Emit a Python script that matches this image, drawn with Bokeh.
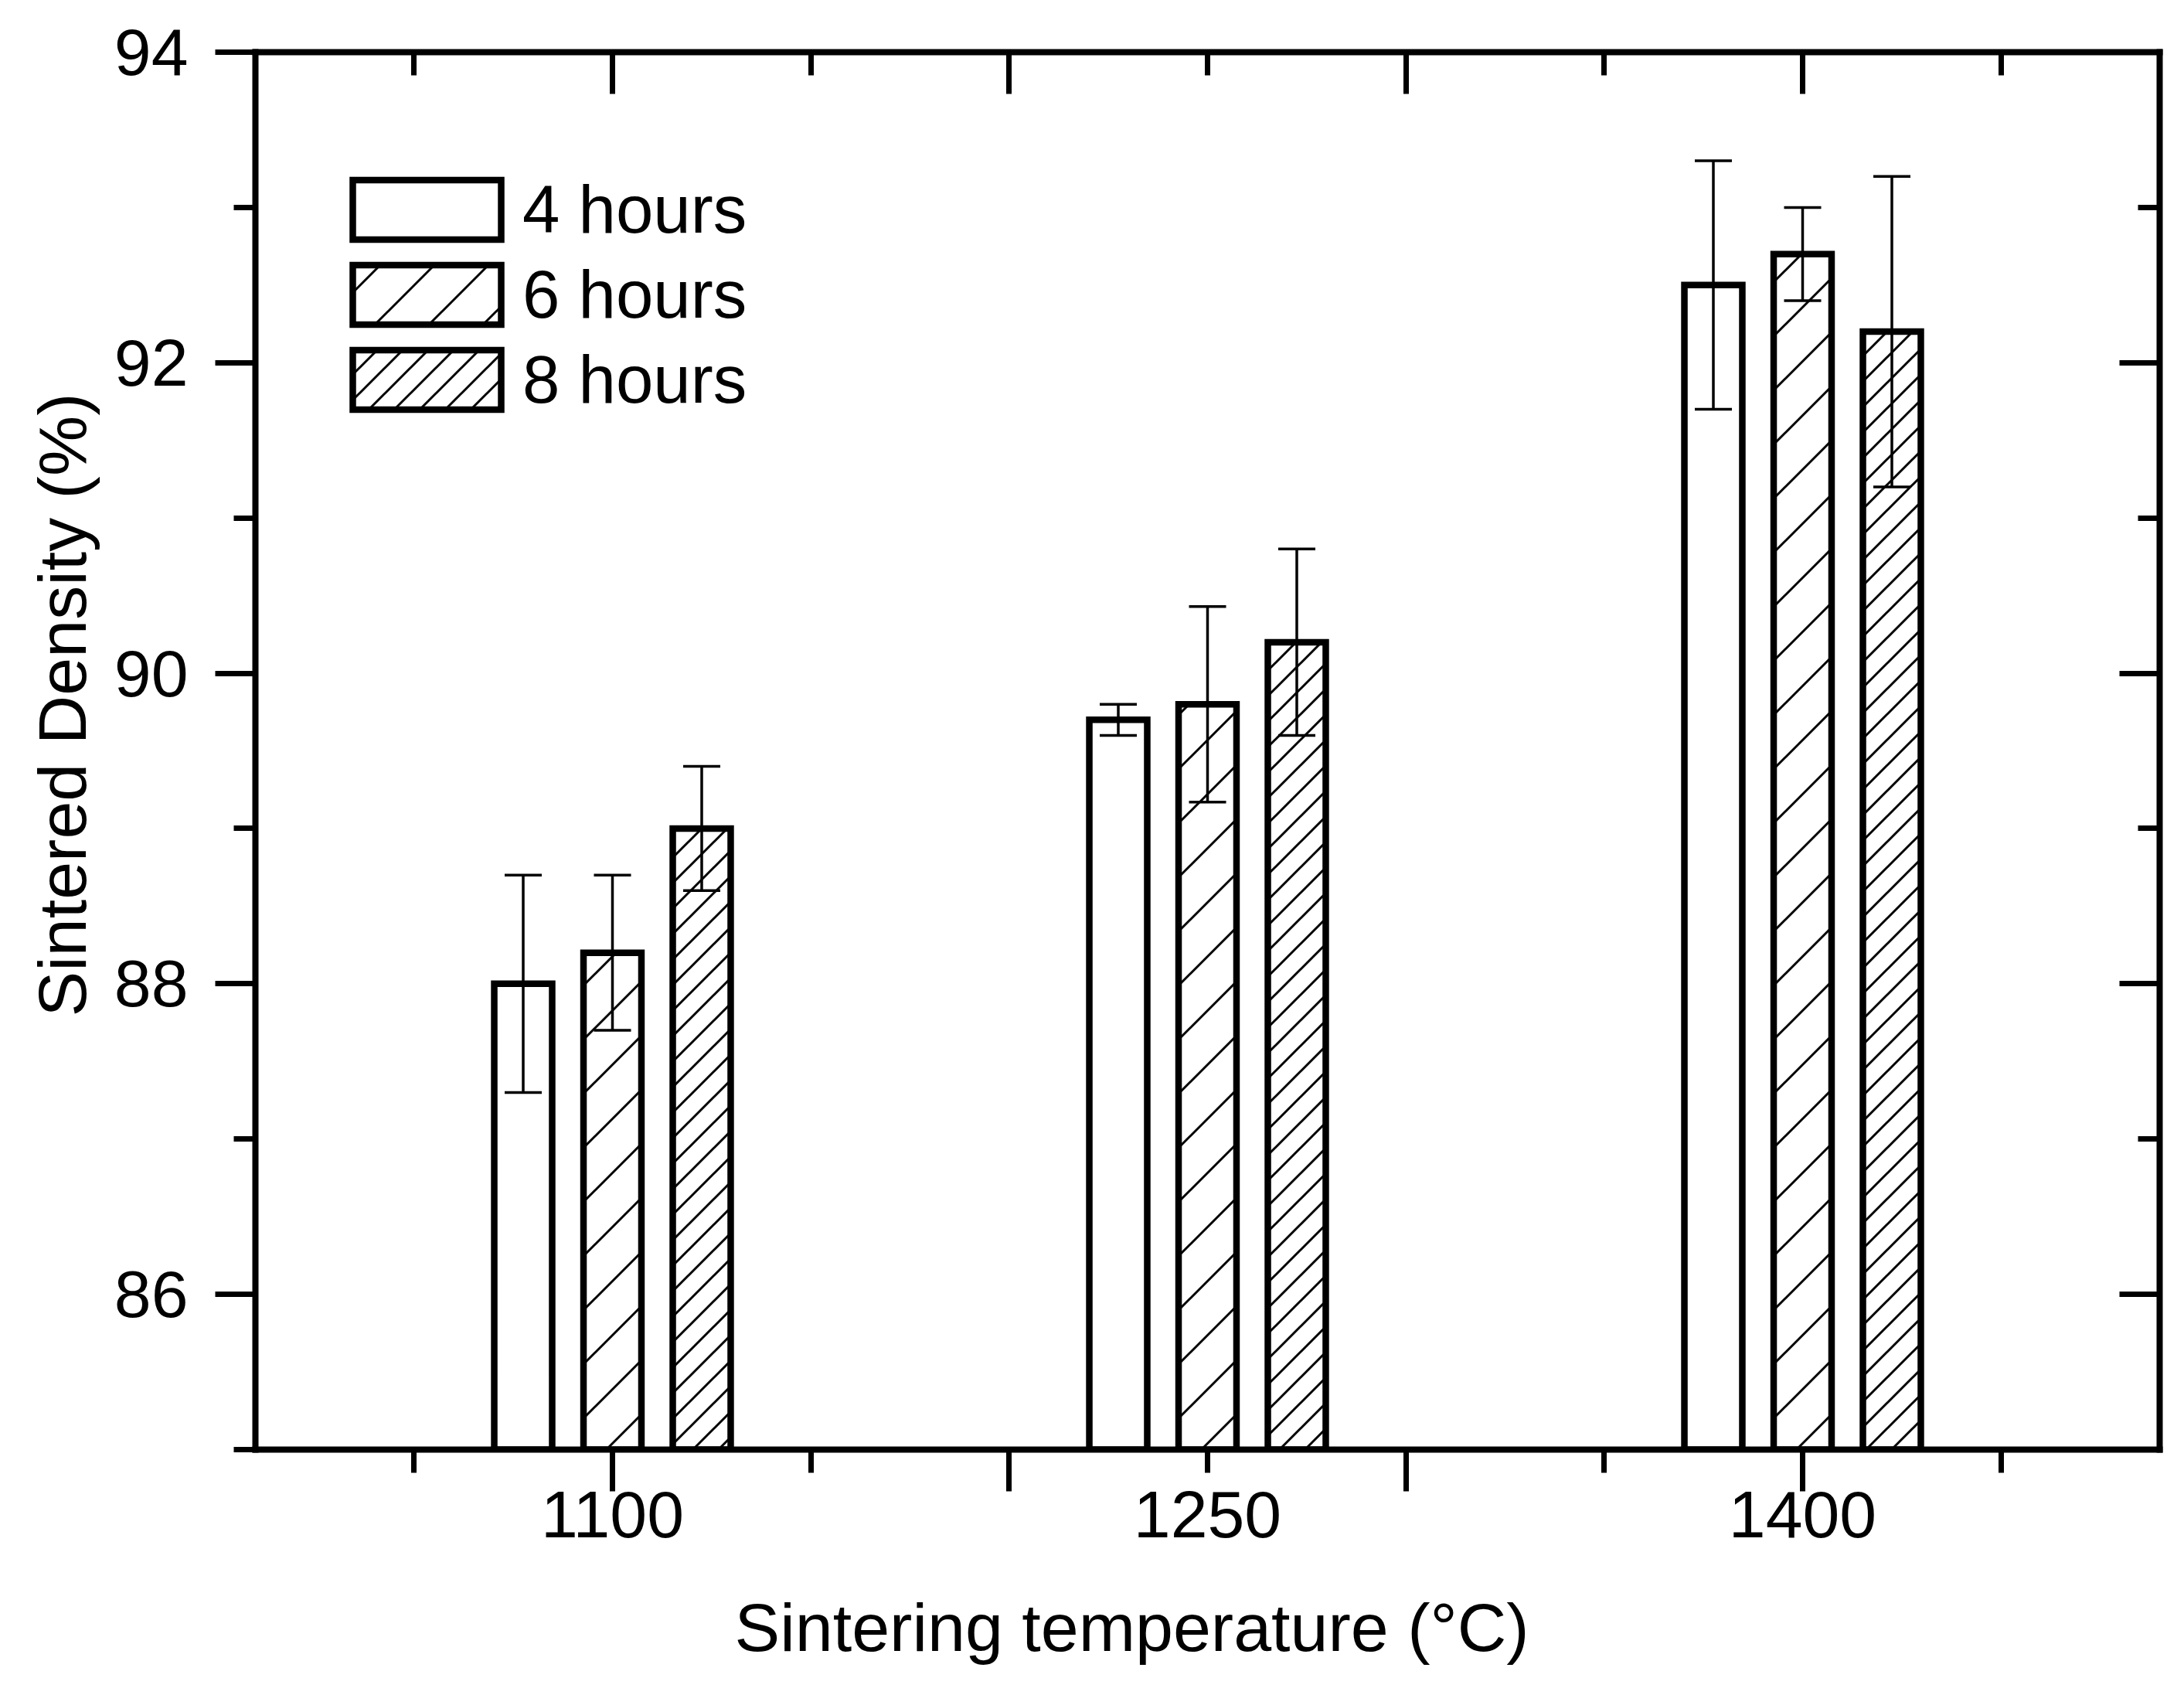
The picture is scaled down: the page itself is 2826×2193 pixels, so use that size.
import base64

from bokeh.plotting import figure
from bokeh.models import (ColumnDataSource, Range1d, FixedTicker, LinearAxis, Whisker, TeeHead,
                          Title, ImageURLTexture)
from bokeh.core.properties import value
from bokeh.embed import file_html
from bokeh.resources import INLINE

# data
temps = [1100, 1250, 1400]
series = ["4 hours", "6 hours", "8 hours"]
density_4h = [88.0, 89.7, 92.5]
error_4h = [0.7, 0.1, 0.8]
density_6h = [88.2, 89.8, 92.7]
error_6h = [0.5, 0.63, 0.3]
density_8h = [89.0, 90.2, 92.2]
error_8h = [0.4, 0.6, 1.0]

x_major = [1100, 1200, 1300, 1400]
x_minor = [1050, 1150, 1250, 1350, 1450]
y_major = [86, 88, 90, 92, 94]
y_minor = [85, 87, 89, 91, 93]

FONT = "Liberation Sans"

p = figure(frame_width=2464, frame_height=1808,
           min_border_left=330, min_border_right=16, min_border_top=67, min_border_bottom=302,
           x_range=Range1d(1010, 1490), y_range=Range1d(85, 94),
           output_backend="svg", toolbar_location=None)
p.xgrid.visible = False
p.ygrid.visible = False
p.outline_line_color = None


def style_axis(ax, tick_in, tick_out, minor_in, minor_out):
    ax.axis_line_width = 8
    ax.axis_line_color = "black"
    ax.axis_line_cap = "square"
    ax.major_tick_in = tick_in
    ax.major_tick_out = tick_out
    ax.minor_tick_in = minor_in
    ax.minor_tick_out = minor_out
    ax.major_tick_line_width = 7
    ax.minor_tick_line_width = 7
    ax.major_tick_line_color = "black"
    ax.minor_tick_line_color = "black"
    ax.major_label_text_font = FONT
    ax.major_label_text_color = "black"


def blank_labels(ax, ticks):
    ax.major_label_overrides = {t: "" for t in ticks}
    ax.major_label_text_font_size = "0px"
    ax.major_label_standoff = 0


# left axis with labels, ticks outward
yax = p.yaxis[0]
yax.ticker = FixedTicker(ticks=y_major, minor_ticks=y_minor)
style_axis(yax, 0, 52, 0, 28)
yax.major_label_text_font_size = "86px"
yax.major_label_standoff = 35

# bottom axis: tick marks only
xax = p.xaxis[0]
xax.ticker = FixedTicker(ticks=x_major, minor_ticks=x_minor)
style_axis(xax, 0, 54, 0, 30)
blank_labels(xax, x_major)

# bottom labels at the group centres
xlab = LinearAxis(ticker=FixedTicker(ticks=temps, minor_ticks=[]))
xlab.axis_line_color = None
xlab.major_tick_line_color = None
xlab.minor_tick_line_color = None
xlab.major_tick_in = 0
xlab.major_tick_out = 0
xlab.minor_tick_in = 0
xlab.minor_tick_out = 0
xlab.major_label_text_font = FONT
xlab.major_label_text_font_size = "86px"
xlab.major_label_text_color = "black"
xlab.major_label_standoff = 0
p.add_layout(xlab, "below")

# mirrored axes, ticks inward
top = LinearAxis(ticker=FixedTicker(ticks=x_major, minor_ticks=x_minor))
style_axis(top, 54, 0, 30, 0)
blank_labels(top, x_major)
p.add_layout(top, "above")

right = LinearAxis(ticker=FixedTicker(ticks=y_major, minor_ticks=y_minor))
style_axis(right, 52, 0, 28, 0)
blank_labels(right, y_major)
p.add_layout(right, "right")

p.add_layout(Title(text="Sintering temperature (\u00b0C)", align="left", offset=620,
                   standoff=125, text_font=FONT, text_font_size="88px",
                   text_font_style="normal", text_color="black"), "below")
p.add_layout(Title(text="Sintered Density (%)", align="left", offset=560,
                   standoff=30, text_font=FONT, text_font_size="88px",
                   text_font_style="normal", text_color="black"), "left")


def stripes(n):
    # one 45 degree "/" line per n x n tile
    svg = (f"<svg xmlns='http://www.w3.org/2000/svg' width='{n}' height='{n}'>"
           f"<path d='M0 {n}L{n} 0M-{n} {n}L{n} -{n}M0 {2*n}L{2*n} 0' "
           f"stroke='black' stroke-width='3' fill='none'/></svg>")
    return ImageURLTexture(url="data:image/svg+xml;base64," + base64.b64encode(svg.encode()).decode())


textures = {"wide": stripes(70), "dense": stripes(33)}

offsets = [-22.5, 0, 22.5]
values = [density_4h, density_6h, density_8h]
errors = [error_4h, error_6h, error_8h]
hatches = [None, "wide", "dense"]

for name, off, vals, errs, hatch in zip(series, offsets, values, errors, hatches):
    src = ColumnDataSource(dict(
        x=[t + off for t in temps],
        top=vals,
        upper=[v + e for v, e in zip(vals, errs)],
        lower=[v - e for v, e in zip(vals, errs)],
    ))
    p.vbar(x="x", top="top", bottom=85, width=14.6, source=src,
           fill_color="white", line_color="black", line_width=8.5, line_join="miter",
           hatch_pattern=value(hatch) if hatch else None, hatch_extra=textures,
           hatch_color="black", legend_label=name)
    w = Whisker(source=src, base="x", upper="upper", lower="lower", dimension="height",
                line_color="black", line_width=3.5, level="annotation",
                upper_head=TeeHead(size=48, line_width=3.5, line_color="black"),
                lower_head=TeeHead(size=48, line_width=3.5, line_color="black"))
    p.add_layout(w)

leg = p.legend[0]
leg.location = (102, 1332)
leg.glyph_width = 240
leg.glyph_height = 96
leg.label_height = 104
leg.spacing = 6
leg.padding = 0
leg.margin = 0
leg.label_standoff = 4
leg.border_line_color = None
leg.background_fill_alpha = 0
leg.label_text_font = FONT
leg.label_text_font_size = "87px"
leg.label_text_color = "black"

open("out.html", "w").write(file_html(p, INLINE))
